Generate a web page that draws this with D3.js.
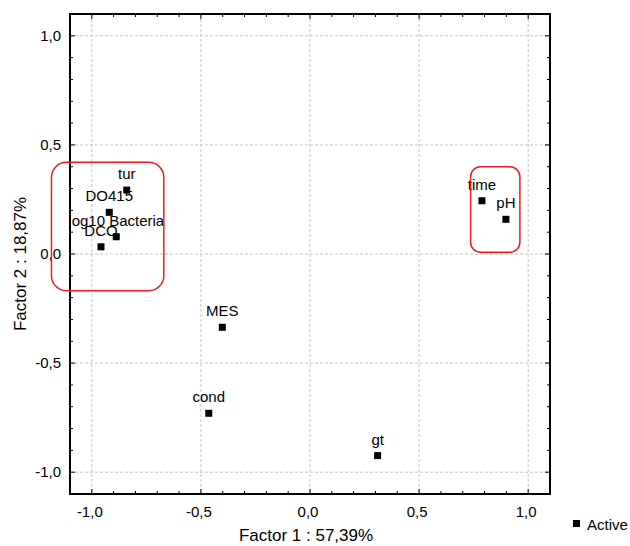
<!DOCTYPE html>
<html>
<head>
<meta charset="utf-8">
<script src="https://cdn.jsdelivr.net/npm/d3@7"></script>
<style>
  body { margin: 0; background: #fff; }
  svg text { font-family: "Liberation Sans", Arial, sans-serif; fill: #000; }
</style>
</head>
<body>
<div id="app"></div>
<script>
// variables projected on factor plane
var names = ['tur', 'DO415', 'log10 Bacteria', 'DCO', 'time', 'pH', 'MES', 'cond', 'gt'];
var factor1 = [-0.840, -0.920, -0.888, -0.958, 0.788, 0.898, -0.402, -0.464, 0.310];
var factor2 = [0.293, 0.191, 0.079, 0.033, 0.244, 0.159, -0.336, -0.730, -0.924];

var majorTicks = [-1.0, -0.5, 0.0, 0.5, 1.0];
var tickLabels = ['-1,0', '-0,5', '0,0', '0,5', '1,0'];

// red groupings [x1, x2, y1, y2] in factor units
var groupBoxes = [[-1.185, -0.67, 0.42, -0.168], [0.736, 0.962, 0.40, 0.008]];
var groupRadius = [15, 10];

var width = 630, height = 546;
var padL = 70, padR = 550, padT = 14, padB = 494;

var svg = d3.select('#app')
    .append('svg')
    .attr('width', width)
    .attr('height', height);

var x = d3.scaleLinear().domain([-1.1, 1.1]).range([padL, padR]);
var y = d3.scaleLinear().domain([-1.1, 1.1]).range([padB, padT]);

var minorTicks = d3.range(-11, 12).map(function (d) { return d / 10; });

// grid
var grid = svg.append('g')
    .attr('stroke', '#c6c6c6')
    .attr('stroke-width', 1)
    .attr('stroke-dasharray', '3,2');
grid.selectAll('.gx')
    .data(majorTicks)
    .enter()
    .append('line')
    .attr('class', 'gx')
    .attr('x1', function (d) { return x(d); })
    .attr('x2', function (d) { return x(d); })
    .attr('y1', padT)
    .attr('y2', padB);
grid.selectAll('.gy')
    .data(majorTicks)
    .enter()
    .append('line')
    .attr('class', 'gy')
    .attr('x1', padL)
    .attr('x2', padR)
    .attr('y1', function (d) { return y(d); })
    .attr('y2', function (d) { return y(d); });

// inward ticks on all four sides
var ticks = svg.append('g').attr('stroke', '#000').attr('stroke-width', 1);
minorTicks.forEach(function (t) {
    var len = majorTicks.some(function (m) { return Math.abs(m - t) < 1e-6; }) ? 5 : 3;
    ticks.append('line').attr('x1', x(t)).attr('x2', x(t)).attr('y1', padB).attr('y2', padB - len);
    ticks.append('line').attr('x1', x(t)).attr('x2', x(t)).attr('y1', padT).attr('y2', padT + len);
    ticks.append('line').attr('y1', y(t)).attr('y2', y(t)).attr('x1', padL).attr('x2', padL + len);
    ticks.append('line').attr('y1', y(t)).attr('y2', y(t)).attr('x1', padR).attr('x2', padR - len);
});

// frame
svg.append('rect')
    .attr('x', padL)
    .attr('y', padT)
    .attr('width', padR - padL)
    .attr('height', padB - padT)
    .attr('fill', 'none')
    .attr('stroke', '#000')
    .attr('stroke-width', 2);

// tick labels
svg.selectAll('.xt')
    .data(majorTicks)
    .enter()
    .append('text')
    .attr('class', 'xt')
    .attr('x', function (d) { return x(d) - 2; })
    .attr('y', 517)
    .attr('text-anchor', 'middle')
    .style('font-size', '15px')
    .text(function (d, i) { return tickLabels[i]; });
svg.selectAll('.yt')
    .data(majorTicks)
    .enter()
    .append('text')
    .attr('class', 'yt')
    .attr('x', 61)
    .attr('y', function (d) { return y(d) + 5; })
    .attr('text-anchor', 'end')
    .style('font-size', '15px')
    .text(function (d, i) { return tickLabels[i]; });

// axis titles
svg.append('text')
    .attr('x', 306)
    .attr('y', 541)
    .attr('text-anchor', 'middle')
    .style('font-size', '17px')
    .text('Factor 1 : 57,39%');
svg.append('text')
    .attr('transform', 'translate(26,264) rotate(-90)')
    .attr('text-anchor', 'middle')
    .style('font-size', '17px')
    .text('Factor 2 : 18,87%');

// points
svg.selectAll('.pt')
    .data(names)
    .enter()
    .append('rect')
    .attr('class', 'pt')
    .attr('x', function (d, i) { return x(factor1[i]) - 3.5; })
    .attr('y', function (d, i) { return y(factor2[i]) - 3.5; })
    .attr('width', 7)
    .attr('height', 7)
    .attr('fill', '#000');
svg.selectAll('.lbl')
    .data(names)
    .enter()
    .append('text')
    .attr('class', 'lbl')
    .attr('x', function (d, i) { return x(factor1[i]); })
    .attr('y', function (d, i) { return y(factor2[i]) - 11; })
    .attr('text-anchor', 'middle')
    .style('font-size', '15px')
    .text(function (d) { return d; });

// group outlines
svg.selectAll('.box')
    .data(groupBoxes)
    .enter()
    .append('rect')
    .attr('class', 'box')
    .attr('x', function (d) { return x(d[0]); })
    .attr('y', function (d) { return y(d[2]); })
    .attr('width', function (d) { return x(d[1]) - x(d[0]); })
    .attr('height', function (d) { return y(d[3]) - y(d[2]); })
    .attr('rx', function (d, i) { return groupRadius[i]; })
    .attr('fill', 'none')
    .attr('stroke', '#ee1c1c')
    .attr('stroke-width', 1.5);

// legend
svg.append('rect')
    .attr('x', 573)
    .attr('y', 520)
    .attr('width', 7)
    .attr('height', 7)
    .attr('fill', '#000');
svg.append('text')
    .attr('x', 587)
    .attr('y', 530)
    .style('font-size', '15px')
    .text('Active');
</script>
</body>
</html>
